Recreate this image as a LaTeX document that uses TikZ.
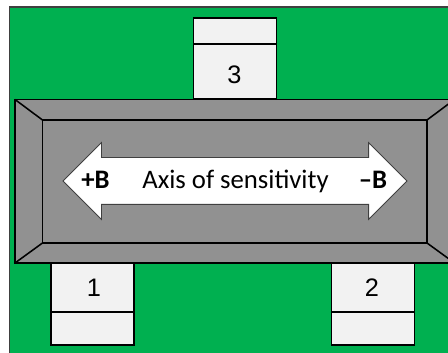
\documentclass[tikz,border=0pt]{standalone}
\usepackage{fontspec}
\setmainfont{Carlito}
\newfontfamily\pinfont{Liberation Sans}
\usetikzlibrary{positioning,shapes.arrows}
\definecolor{boardgreen}{HTML}{00B050}
\definecolor{bodygray}{HTML}{919191}
\definecolor{pinwhite}{HTML}{F2F2F2}
\def\pxsz{0.025cm}
\tikzset{
    pinbox/.style={rectangle, draw, line width=1.1pt, fill=pinwhite, outer sep=0pt, inner sep=0pt, minimum width=83*\pxsz},
    pinlabel/.style={inner sep=0pt, font=\pinfont\fontsize{18}{20}\selectfont},
    bodybox/.style={rectangle, draw, line width=1.1pt, fill=bodygray, outer sep=0pt, inner sep=0pt},
    axislabel/.style={inner sep=0pt, anchor=base, font=\fontsize{19}{20}\selectfont},
}
\begin{document}
\begin{tikzpicture}[x=0.025cm, y=-0.025cm]
        \clip (0, 0) rectangle (448, 353);
        \fill[white] (0, 0) rectangle (448, 353);

        \node[rectangle, draw=black!75, line width=1pt, fill=boardgreen, minimum width=460*\pxsz, minimum height=370*\pxsz, anchor=north west, outer sep=0pt] (board) at (9.5, 7) {};

        \node[pinbox, minimum height=26*\pxsz] (p3cap) at (235, 31) {};
        \node[pinbox, minimum height=55*\pxsz, below = 0pt of p3cap] (p3) {};
        \node[pinbox, minimum height=49*\pxsz] (p1) at (92.7, 287.5) {};
        \node[pinbox, minimum height=33*\pxsz, below = 0pt of p1] (p1cap) {};
        \node[pinbox, minimum height=49*\pxsz] (p2) at (373, 287.5) {};
        \node[pinbox, minimum height=33*\pxsz, below = 0pt of p2] (p2cap) {};
        \node[pinlabel] (n3) at (234.5, 75) {3};
        \node[pinlabel] (n1) at (94, 288) {1};
        \node[pinlabel] (n2) at (372, 288) {2};

        \node[bodybox, minimum width=439.5*\pxsz, minimum height=163.5*\pxsz, anchor=north west] (body) at (15, 99.5) {};
        \node[bodybox, minimum width=384.5*\pxsz, minimum height=123*\pxsz, anchor=north west] (face) at (42.5, 120) {};
        \draw[line width=1.1pt] (body.north west) -- (face.north west);
        \draw[line width=1.1pt] (body.south west) -- (face.south west);
        \draw[line width=1.1pt] (body.north east) -- (face.north east);
        \draw[line width=1.1pt] (body.south east) -- (face.south east);

        \node[double arrow, draw=black!75, line width=0.6pt, fill=white, double arrow tip angle=90, double arrow head indent=0pt, double arrow head extend=15*\pxsz, minimum height=344*\pxsz, inner xsep=0pt, inner ysep=23*\pxsz, outer sep=0pt] (axis) at (235, 181) {};

        \node[axislabel] (plusb) at (95.5, 188.5) {\textbf{+B}};
        \node[axislabel] (axistext) at (235.5, 188.5) {Axis of sensitivity};
        \node[axislabel] (minusb) at (373, 188.5) {\textbf{--B}};
    \end{tikzpicture}
\end{document}
